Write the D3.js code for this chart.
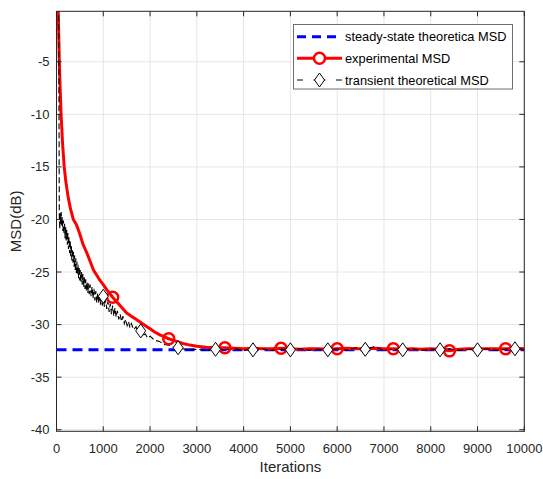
<!DOCTYPE html>
<html>
<head>
<meta charset="utf-8">
<script src="https://cdn.jsdelivr.net/npm/d3@7"></script>
<style>
  html, body { margin: 0; padding: 0; background: #fff; }
  svg { display: block; font-family: "Liberation Sans", Arial, Helvetica, sans-serif; }
</style>
</head>
<body>
<svg id="chart" width="543" height="479"></svg>
<script>
// ---------------- data ----------------
const xTicks = [0, 1000, 2000, 3000, 4000, 5000, 6000, 7000, 8000, 9000, 10000];
const yTicks = [-40, -35, -30, -25, -20, -15, -10, -5];
const xLabel = "Iterations";
const yLabel = "MSD(dB)";
const legendLabels = ["steady-state theoretica MSD", "experimental MSD", "transient theoretical MSD"];

const steadyIter = [0, 10000];
const steadyMSD = [-32.4, -32.4];

const expIter = [0, 20, 40, 60, 80, 100, 130, 165, 200, 250, 300, 360, 415, 460, 500, 570, 650, 720, 790, 860, 930, 1000, 1075, 1150, 1200, 1300, 1400, 1500, 1600, 1700, 1800, 1900, 2000, 2100, 2200, 2300, 2400, 2500, 2600, 2700, 2850, 3000, 3200, 3400, 3600, 3800, 4000, 4200, 4400, 4600, 4800, 5000, 5200, 5400, 5600, 5800, 6000, 6200, 6400, 6600, 6800, 7000, 7200, 7400, 7600, 7800, 8000, 8200, 8400, 8600, 8800, 9000, 9200, 9400, 9600, 9800, 10000];
const expMSD = [2.0, 2.0, -0.8, -5.0, -7.8, -10.2, -12.8, -15.0, -16.4, -17.9, -19.0, -20.0, -20.4, -20.9, -21.4, -22.4, -23.2, -24.0, -24.8, -25.3, -25.8, -26.2, -26.7, -27.1, -27.4, -27.9, -28.4, -28.9, -29.2, -29.5, -29.8, -30.1, -30.4, -30.7, -30.95, -31.15, -31.35, -31.5, -31.65, -31.8, -31.95, -32.05, -32.15, -32.2, -32.2, -32.25, -32.3, -32.25, -32.3, -32.3, -32.25, -32.3, -32.35, -32.3, -32.3, -32.35, -32.3, -32.25, -32.3, -32.3, -32.25, -32.3, -32.3, -32.35, -32.3, -32.35, -32.3, -32.35, -32.5, -32.35, -32.3, -32.3, -32.3, -32.3, -32.3, -32.25, -32.3];
const expMarkerIter = [1200, 2400, 3600, 4800, 6000, 7200, 8400, 9600];

const transIter = [45, 55, 60, 70, 80, 90, 100, 112, 124, 136, 148, 160, 172, 184, 196, 208, 220, 232, 244, 256, 268, 280, 292, 304, 316, 328, 340, 352, 364, 376, 388, 400, 412, 424, 436, 448, 460, 472, 484, 496, 508, 520, 535, 550, 565, 580, 595, 610, 625, 640, 655, 670, 685, 700, 720, 740, 760, 780, 800, 820, 840, 860, 880, 900, 920, 940, 960, 980, 1000, 1025, 1050, 1075, 1100, 1125, 1150, 1175, 1200, 1225, 1250, 1275, 1300, 1330, 1360, 1390, 1420, 1450, 1480, 1510, 1540, 1570, 1600, 1650, 1700, 1750, 1800, 1850, 1900, 1950, 2000, 2100, 2200, 2300, 2400, 2500, 2600, 2700, 2800, 3000, 3200, 3400, 3600, 3800, 4000, 4200, 4400, 4600, 4800, 5000, 5200, 5400, 5600, 5800, 6000, 6200, 6400, 6600, 6800, 7000, 7200, 7400, 7600, 7800, 8000, 8200, 8400, 8600, 8800, 9000, 9200, 9400, 9600, 9800, 10000];
const transMSD = [2.0, -12.0, -19.6, -20.9, -19.4, -20.5, -19.3, -20.6, -19.8, -21.1, -20.1, -21.4, -20.4, -21.8, -20.7, -22.0, -21.0, -22.4, -21.3, -22.8, -21.7, -23.2, -22.0, -23.5, -22.4, -23.9, -22.8, -24.1, -23.1, -24.5, -23.4, -24.8, -23.7, -25.1, -24.0, -25.3, -24.3, -25.6, -24.5, -25.8, -24.8, -26.0, -25.0, -26.2, -25.2, -26.4, -25.5, -26.6, -25.7, -26.8, -25.9, -27.0, -26.1, -27.1, -26.2, -27.3, -26.4, -27.5, -26.6, -27.7, -26.8, -27.9, -27.0, -28.0, -27.1, -28.1, -27.2, -28.2, -27.3, -28.3, -27.6, -28.5, -27.8, -28.8, -28.0, -29.0, -28.2, -29.2, -28.4, -29.3, -28.7, -29.5, -29.0, -29.7, -29.2, -29.9, -29.5, -30.1, -29.7, -30.3, -29.9, -30.5, -30.2, -30.8, -30.6, -31.0, -30.9, -31.3, -31.1, -31.5, -31.6, -31.9, -31.95, -32.15, -32.2, -32.3, -32.4, -32.35, -32.45, -32.35, -32.4, -32.3, -32.45, -32.4, -32.3, -32.45, -32.35, -32.4, -32.3, -32.45, -32.35, -32.4, -32.3, -32.45, -32.2, -32.35, -32.1, -32.45, -32.35, -32.4, -32.3, -32.45, -32.35, -32.4, -32.3, -32.45, -32.35, -32.4, -32.3, -32.45, -32.35, -32.3, -32.35];
const transMarkerIter = [1000, 1800, 2600, 3400, 4200, 5000, 5800, 6600, 7400, 8200, 9000, 9800];

// ---------------- layout ----------------
const L = 56.5, R = 524.3, T = 11.3, B = 431.3;
const axisColor = "#262626";
const gridColor = "#e6e6e6";

const svg = d3.select("#chart");
const x = d3.scaleLinear().domain([0, 10000]).range([L, R]);
const y = d3.scaleLinear().domain([-40.15, -0.2]).range([B, T]);

// grid
const grid = svg.append("g");
grid.selectAll("line.gx").data(xTicks).join("line")
  .attr("x1", d => x(d)).attr("x2", d => x(d)).attr("y1", T).attr("y2", B)
  .attr("stroke", gridColor).attr("stroke-width", 1);
grid.selectAll("line.gy").data(yTicks).join("line")
  .attr("x1", L).attr("x2", R).attr("y1", d => y(d)).attr("y2", d => y(d))
  .attr("stroke", gridColor).attr("stroke-width", 1);

// clip
svg.append("defs").append("clipPath").attr("id", "clip")
  .append("rect").attr("x", L).attr("y", T).attr("width", R - L).attr("height", B - T);

const plot = svg.append("g").attr("clip-path", "url(#clip)");
const line = d3.line().x(d => x(d[0])).y(d => y(d[1]));

const steady = d3.zip(steadyIter, steadyMSD);
const exp = d3.zip(expIter, expMSD);
const trans = d3.zip(transIter, transMSD);

plot.append("path").attr("d", line(steady))
  .attr("fill", "none").attr("stroke", "#0000ff").attr("stroke-width", 3)
  .attr("stroke-dasharray", "10,6");

plot.append("path").attr("d", line(exp))
  .attr("fill", "none").attr("stroke", "#ff0000").attr("stroke-width", 3)
  .attr("stroke-linejoin", "round");

plot.append("path").attr("d", line(trans))
  .attr("fill", "none").attr("stroke", "#000").attr("stroke-width", 1.1)
  .attr("stroke-dasharray", "6,3");

const expMarks = exp.filter(d => expMarkerIter.includes(d[0]));
plot.selectAll("circle.em").data(expMarks).join("circle")
  .attr("cx", d => x(d[0])).attr("cy", d => y(d[1])).attr("r", 5.5)
  .attr("fill", "none").attr("stroke", "#ff0000").attr("stroke-width", 2.5);

const diamond = (cx, cy) => `M${cx},${cy - 7}L${cx + 5},${cy}L${cx},${cy + 7}L${cx - 5},${cy}Z`;
const transMarks = trans.filter(d => transMarkerIter.includes(d[0]));
plot.selectAll("path.tm").data(transMarks).join("path")
  .attr("d", d => diamond(x(d[0]), y(d[1])))
  .attr("fill", "#fff").attr("stroke", "#000").attr("stroke-width", 1);

// axes box
const ax = svg.append("g");
ax.append("rect").attr("x", L).attr("y", T).attr("width", R - L).attr("height", B - T)
  .attr("fill", "none").attr("stroke", axisColor).attr("stroke-width", 1);

const tl = 5;
ax.selectAll("line.xb").data(xTicks).join("line")
  .attr("x1", d => x(d)).attr("x2", d => x(d)).attr("y1", B).attr("y2", B - tl)
  .attr("stroke", axisColor);
ax.selectAll("line.xt").data(xTicks).join("line")
  .attr("x1", d => x(d)).attr("x2", d => x(d)).attr("y1", T).attr("y2", T + tl)
  .attr("stroke", axisColor);
ax.selectAll("line.yl").data(yTicks).join("line")
  .attr("x1", L).attr("x2", L + tl).attr("y1", d => y(d)).attr("y2", d => y(d))
  .attr("stroke", axisColor);
ax.selectAll("line.yr").data(yTicks).join("line")
  .attr("x1", R).attr("x2", R - tl).attr("y1", d => y(d)).attr("y2", d => y(d))
  .attr("stroke", axisColor);

ax.selectAll("text.xl").data(xTicks).join("text")
  .attr("x", d => x(d)).attr("y", B + 22)
  .attr("text-anchor", "middle").attr("font-size", 13).attr("fill", axisColor)
  .text(d => d);
ax.selectAll("text.yl").data(yTicks).join("text")
  .attr("x", L - 7).attr("y", d => y(d) + 4.5)
  .attr("text-anchor", "end").attr("font-size", 13).attr("fill", axisColor)
  .text(d => d);

svg.append("text").attr("x", (L + R) / 2).attr("y", 472)
  .attr("text-anchor", "middle").attr("font-size", 15).attr("fill", axisColor)
  .text(xLabel);
svg.append("text").attr("transform", `translate(21,${(T + B) / 2}) rotate(-90)`)
  .attr("text-anchor", "middle").attr("font-size", 15).attr("fill", axisColor)
  .text(yLabel);

// legend
const lg = svg.append("g");
lg.append("rect").attr("x", 293.5).attr("y", 24.5).attr("width", 219).attr("height", 64.5)
  .attr("fill", "#fff").attr("stroke", "#6e6e6e").attr("stroke-width", 1);
const rows = [36.7, 58.3, 80];
const sx0 = 297, sx1 = 342, smid = 319.5;
lg.append("line").attr("x1", sx0).attr("x2", sx1).attr("y1", rows[0]).attr("y2", rows[0])
  .attr("stroke", "#0000ff").attr("stroke-width", 3).attr("stroke-dasharray", "9,6");
lg.append("line").attr("x1", sx0).attr("x2", sx1).attr("y1", rows[1]).attr("y2", rows[1])
  .attr("stroke", "#ff0000").attr("stroke-width", 3);
lg.append("circle").attr("cx", smid).attr("cy", rows[1]).attr("r", 5.5)
  .attr("fill", "#fff").attr("stroke", "#ff0000").attr("stroke-width", 2.5);
lg.append("line").attr("x1", sx0).attr("x2", sx1).attr("y1", rows[2]).attr("y2", rows[2])
  .attr("stroke", "#000").attr("stroke-width", 1).attr("stroke-dasharray", "6,10.5,12,10.5,6");
lg.append("path").attr("d", diamond(smid, rows[2]))
  .attr("fill", "#fff").attr("stroke", "#000").attr("stroke-width", 1);
lg.selectAll("text").data(legendLabels).join("text")
  .attr("x", 345).attr("y", (d, i) => rows[i] + 4.5)
  .attr("font-size", 12.8).attr("fill", "#000").text(d => d);
</script>
</body>
</html>
